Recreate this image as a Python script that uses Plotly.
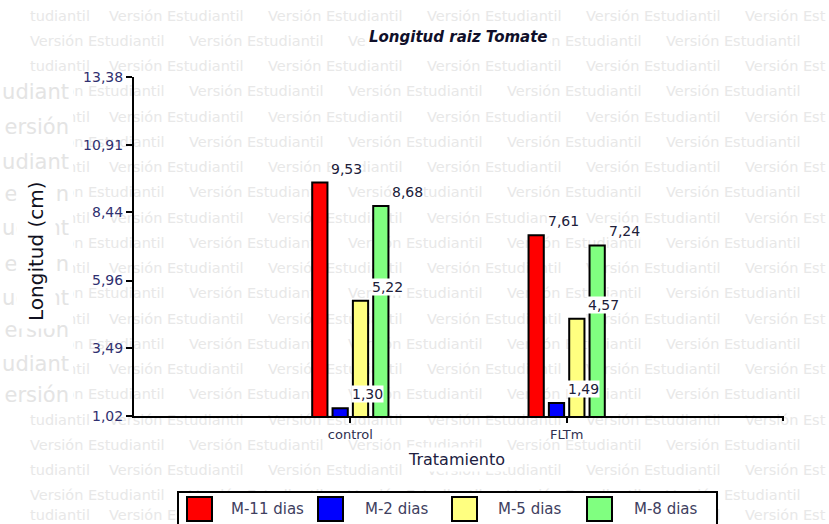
import plotly.graph_objects as go

# ---------------- data ----------------
categories = ["control", "FLTm"]
series_names = ["M-11 dias", "M-2 dias", "M-5 dias", "M-8 dias"]
m11_dias = [9.53, 7.61]
m2_dias = [1.30, 1.49]
m5_dias = [5.22, 4.57]
m8_dias = [8.68, 7.24]
y_tick_vals = [1.02, 3.49, 5.96, 8.44, 10.91, 13.38]
y_tick_text = ["1,02", "3,49", "5,96", "8,44", "10,91", "13,38"]
title_text = "Longitud raiz Tomate"
y_title = "Longitud (cm)"
x_title = "Tratamiento"
watermark = "Versión Estudiantil"

series = [m11_dias, m2_dias, m5_dias, m8_dias]
colors = ["#ff0000", "#0000ff", "#ffff80", "#80ff80"]

# ---------------- geometry helpers (pixel -> paper) ----------------
W, H = 829, 524
PL, PR, PT, PB = 134, 783, 77, 416


def xp(px):
    return (px - PL) / (PR - PL)


def yp(py):
    return (PB - py) / (PB - PT)


FONT = "DejaVu Sans"
BARGAP = 0.624
BARGROUPGAP = 0.25

fig = go.Figure()
for name, vals, c in zip(series_names, series, colors):
    fig.add_trace(go.Bar(
        x=categories, y=vals, name=name,
        marker=dict(color=c, line=dict(color="black", width=2)),
        showlegend=False, hoverinfo="x+y+name",
    ))

shapes = []

# ---- watermark (small rows) drawn below everything ----
WM_COLOR = "#e8e8e8"
row_y0 = 14
row_step = 25.25
for k in range(21):
    y = min(row_y0 + k * row_step, 513)
    items = []
    if k % 2 == 0:
        items.append((27, "tudiantil"))
        for j in range(5):
            items.append((106 + 159 * j, watermark if j < 4 else "Versión Est"))
    else:
        for j in range(5):
            items.append((27 + 159 * j, watermark))
    for x, t in items:
        shapes.append(dict(
            type="rect", xref="paper", yref="paper", layer="below",
            x0=xp(x), x1=xp(x + 80), y0=yp(y + 8), y1=yp(y - 8),
            line=dict(width=0), fillcolor="rgba(0,0,0,0)",
            label=dict(text=t, textposition="middle left", padding=0,
                       font=dict(family=FONT, size=14.5, color=WM_COLOR)),
        ))

# white strip at left where the large watermark shows
shapes.append(dict(
    type="rect", xref="paper", yref="paper", layer="below",
    x0=xp(-5), x1=xp(73), y0=yp(406), y1=yp(76),
    line=dict(width=0), fillcolor="white",
))
big_rows = [90, 125, 160, 192, 226, 262, 296, 328, 362, 393]
for i, y in enumerate(big_rows):
    t = "udiant" if i % 2 == 0 else "ersión"
    shapes.append(dict(
        type="rect", xref="paper", yref="paper", layer="below",
        x0=xp(10), x1=xp(72), y0=yp(y + 12), y1=yp(y - 12),
        line=dict(width=0), fillcolor="rgba(0,0,0,0)",
        label=dict(text=t, textposition="middle right", padding=0,
                   font=dict(family=FONT, size=21, color="#e4e4e4")),
    ))

# small tick at the right end of the x axis
shapes.append(dict(type="line", xref="paper", yref="paper", layer="above",
                   x0=1, x1=1, y0=0, y1=yp(421),
                   line=dict(color="black", width=2)))

# ---- legend (manual) ----
shapes.append(dict(type="rect", xref="paper", yref="paper", layer="above",
                   x0=xp(178), x1=xp(717), y0=yp(548), y1=yp(492),
                   line=dict(color="black", width=2), fillcolor="white"))
swatch_x = [187, 318, 452, 587]
text_x = [229, 363, 496, 632]
for sx, c in zip(swatch_x, colors):
    shapes.append(dict(type="rect", xref="paper", yref="paper", layer="above",
                       x0=xp(sx), x1=xp(sx + 25), y0=yp(521), y1=yp(497),
                       line=dict(color="black", width=2), fillcolor=c))

annotations = []
for tx, name in zip(text_x, series_names):
    annotations.append(dict(
        xref="paper", yref="paper", x=xp(tx), y=yp(509), text=name,
        showarrow=False, xanchor="left", yanchor="middle",
        font=dict(family=FONT, size=15, color="#404060"),
    ))

# ---- value labels ----
slot = (1 - BARGAP) / 4
for k, vals in enumerate(series):
    for i, v in enumerate(vals):
        annotations.append(dict(
            xref="x", yref="y", x=i + (k - 1.5) * slot, y=v,
            text=f"{v:.2f}".replace(".", ","), showarrow=False,
            xshift=27, yshift=14, xanchor="center", yanchor="middle",
            bgcolor="white", borderpad=0,
            font=dict(family=FONT, size=14, color="#20203a"),
        ))

# ---- titles ----
annotations.append(dict(
    xref="paper", yref="paper", x=xp(458), y=yp(37),
    text=f"<b><i>{title_text}</i></b>", showarrow=False,
    xanchor="center", yanchor="middle", bgcolor="white", borderpad=2,
    font=dict(family=FONT, size=15, color="#10102a"),
))
annotations.append(dict(
    xref="paper", yref="paper", x=xp(36), y=yp(251),
    text=y_title, showarrow=False, textangle=-90,
    xanchor="center", yanchor="middle", bgcolor="white", borderpad=7,
    font=dict(family=FONT, size=20, color="#101020"),
))
annotations.append(dict(
    xref="paper", yref="paper", x=xp(456), y=yp(459),
    text=x_title, showarrow=False,
    xanchor="center", yanchor="middle", bgcolor="white", borderpad=2,
    font=dict(family=FONT, size=16, color="#202040"),
))

fig.update_layout(
    width=W, height=H,
    margin=dict(l=PL, r=W - PR, t=PT, b=H - PB, pad=0),
    paper_bgcolor="white", plot_bgcolor="rgba(0,0,0,0)",
    barmode="group", bargap=BARGAP, bargroupgap=BARGROUPGAP,
    showlegend=False,
    shapes=shapes, annotations=annotations,
    font=dict(family=FONT),
    xaxis=dict(
        type="category", range=[-1, 2], showline=True, linecolor="black",
        linewidth=2, ticks="outside", ticklen=5, tickwidth=2, tickcolor="black",
        showgrid=False, zeroline=False,
        tickfont=dict(family=FONT, size=13, color="#303050"),
    ),
    yaxis=dict(
        range=[y_tick_vals[0], y_tick_vals[-1]], tickvals=y_tick_vals,
        ticktext=y_tick_text, showline=True, linecolor="black", linewidth=2,
        ticks="outside", ticklen=6, tickwidth=2, tickcolor="black",
        showgrid=False, zeroline=False,
        tickfont=dict(family=FONT, size=14, color="#303070"),
    ),
)

fig.write_html(
    "out.html",
    config={"displayModeBar": False},
    post_script="document.body.style.margin='0px';document.body.style.overflow='hidden';",
)
